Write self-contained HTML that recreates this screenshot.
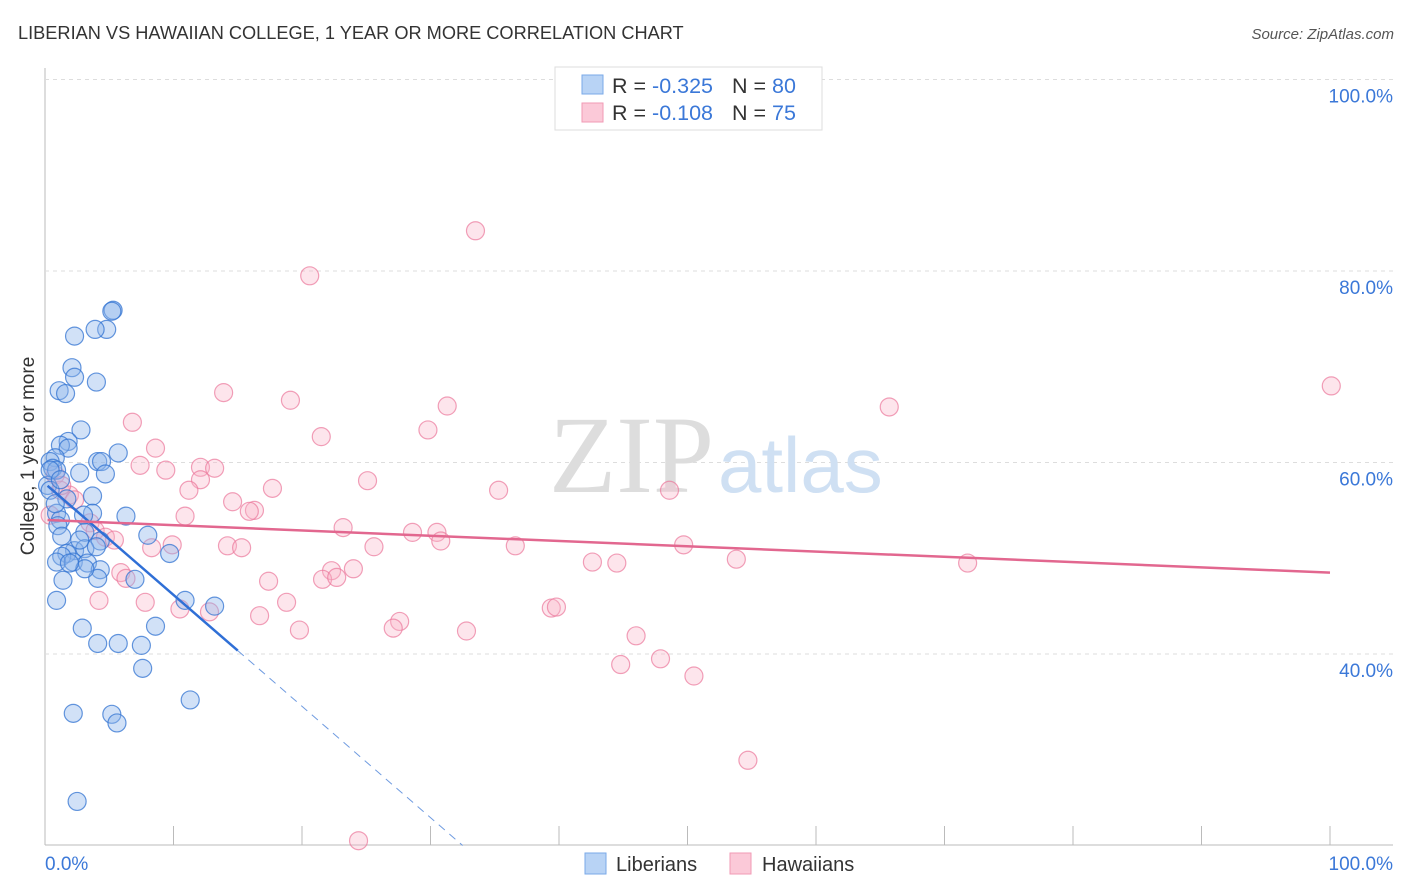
<!DOCTYPE html>
<html><head><meta charset="utf-8"><style>
body{margin:0;background:#fff;font-family:"Liberation Sans",sans-serif;}
svg{display:block}
</style></head><body>
<svg id="chart" width="1406" height="892">
<text x="18" y="39" font-size="18.2" fill="#333">LIBERIAN VS HAWAIIAN COLLEGE, 1 YEAR OR MORE CORRELATION CHART</text>
<text x="1394" y="39" font-size="15" fill="#555" font-style="italic" text-anchor="end">Source: ZipAtlas.com</text>
<text x="0" y="0" transform="translate(34,456) rotate(-90)" font-size="19" fill="#333" text-anchor="middle">College, 1 year or more</text>
<g id="grid"></g>
<text x="714" y="492" font-size="110" font-family="Liberation Serif,serif" fill="#ddd" text-anchor="end">ZIP</text>
<text x="718" y="492" font-size="78" fill="#cfe0f3">atlas</text>
<g id="marks"></g>
<g>
<rect x="555" y="67" width="267" height="63" fill="#fff" stroke="#ddd"/>
<rect x="582" y="75" width="21" height="19" fill="#b8d3f5" stroke="#7aa9e8"/>
<rect x="582" y="103" width="21" height="19" fill="#fbc9d8" stroke="#f09ab5"/>
<text x="612" y="93" font-size="21.5" fill="#333">R = <tspan fill="#3b78d8">-0.325</tspan><tspan x="732">N = </tspan><tspan fill="#3b78d8">80</tspan></text>
<text x="612" y="120" font-size="21.5" fill="#333">R = <tspan fill="#3b78d8"> -0.108</tspan><tspan x="732">N = </tspan><tspan fill="#3b78d8"> 75</tspan></text>
</g>
<g>
<rect x="585" y="853" width="21" height="21" fill="#b8d3f5" stroke="#7aa9e8"/>
<text x="616" y="871" font-size="20" fill="#333">Liberians</text>
<rect x="730" y="853" width="21" height="21" fill="#fbc9d8" stroke="#f09ab5"/>
<text x="762" y="871" font-size="20" fill="#333">Hawaiians</text>
</g>
</svg>
<script>
const yTicks=[40,60,80,100];
const xTickLabels=["0.0%","100.0%"];
const blueX=[5.3,5.2,4.8,3.9,2.3,2.1,2.3,4.0,1.1,1.6,2.8,1.8,1.2,1.8,4.1,5.7,4.4,4.7,2.7,0.8,0.4,0.6,0.9,0.2,0.4,3.7,1.7,0.9,3.7,3.0,6.3,1.2,1.0,3.1,1.3,8.0,4.3,2.3,3.1,1.7,1.3,4.0,9.7,0.9,2.2,3.3,4.3,7.0,4.1,1.4,3.1,0.9,10.9,13.2,8.6,2.9,4.1,5.7,7.5,7.6,2.2,5.2,5.6,11.3,2.5,0.4,1.2,0.8,1.9,2.7];
const blueY=[75.9,75.8,73.9,73.9,73.2,69.9,68.9,68.4,67.5,67.2,63.4,62.2,61.8,61.5,60.1,61.0,60.1,58.8,58.9,60.5,60.1,59.4,59.2,57.6,57.1,56.5,56.2,54.7,54.7,54.5,54.4,54.0,53.4,52.7,52.3,52.4,51.8,50.8,51.0,50.5,50.2,51.2,50.5,49.6,49.6,49.5,48.8,47.8,47.9,47.7,48.9,45.6,45.6,45.0,42.9,42.7,41.1,41.1,40.9,38.5,33.8,33.7,32.8,35.2,24.6,59.2,58.2,55.7,49.5,51.9];
const pinkX=[33.5,20.6,100.1,65.7,31.3,13.9,19.1,6.8,29.8,21.5,8.6,7.4,9.4,12.1,13.2,12.1,25.1,17.7,11.2,35.3,48.6,14.6,16.3,15.9,10.9,3.5,3.9,4.7,5.4,23.2,28.6,30.5,30.8,25.6,36.6,49.7,14.2,15.3,9.9,8.3,42.6,44.5,53.8,71.8,5.9,6.3,17.4,22.3,24.0,21.6,22.7,4.2,7.8,10.5,12.8,18.8,16.7,27.6,27.1,19.8,32.8,39.4,39.8,46.0,47.9,44.8,50.5,54.7,24.4,0.8,1.2,1.9,2.3,1.3,0.4];
const pinkY=[84.2,79.5,68.0,65.8,65.9,67.3,66.5,64.2,63.4,62.7,61.5,59.7,59.2,59.5,59.4,58.2,58.1,57.3,57.1,57.1,57.1,55.9,55.0,54.9,54.4,53.7,52.9,52.2,51.9,53.2,52.7,52.7,51.8,51.2,51.3,51.4,51.3,51.1,51.4,51.1,49.6,49.5,49.9,49.5,48.5,47.9,47.6,48.7,48.9,47.8,48.0,45.6,45.4,44.7,44.4,45.4,44.0,43.4,42.7,42.5,42.4,44.8,44.9,41.9,39.5,38.9,37.7,28.9,20.5,58.7,57.1,56.6,56.1,57.6,54.5];
const blueFit=[57.8,-1.163];
const pinkFit=[54.0,-0.055];
const X=v=>45+v*12.85, Y=v=>1037-v*9.575;
const NS="http://www.w3.org/2000/svg";
function mk(tag,attrs,parent){const e=document.createElementNS(NS,tag);for(const k in attrs)e.setAttribute(k,attrs[k]);parent.appendChild(e);return e;}
const grid=document.getElementById('grid'), marks=document.getElementById('marks');
let ax=mk('line',{x1:45,y1:68,x2:45,y2:845,stroke:'#bbb'},grid);


let bx=mk('line',{x1:45,y1:845,x2:1393,y2:845,stroke:'#bbb'},grid);


yTicks.forEach(t=>{
 let g=mk('line',{x1:45,y1:Y(t),x2:1393,y2:Y(t),stroke:'#ddd','stroke-dasharray':'4,4'},grid);
 
 
 let l=mk('text',{x:1393,y:Y(t)+23,'font-size':19,fill:'#3b78d8','text-anchor':'end'},grid);
 l.textContent=t.toFixed(1)+'%';
 
 
});
for(let i=1;i<=10;i++){
 let t=mk('line',{x1:X(i*10),y1:826,x2:X(i*10),y2:845,stroke:'#bbb'},grid);
 
 
}
[[0,'start',45],[100,'end',1393]].forEach((d,i)=>{
 let l=mk('text',{x:d[2],y:870,'font-size':19,fill:'#3b78d8','text-anchor':d[1]},grid);
 l.textContent=xTickLabels[i];
 
 
});
function pts(xs,ys,fill,stroke,name){
 xs.forEach((x,i)=>{
  let c=mk('circle',{cx:X(x),cy:Y(ys[i]),r:9,fill:fill,stroke:stroke,'stroke-width':1.2},marks);
  
  
 });
}
pts(pinkX,pinkY,'rgba(248,180,200,0.35)','rgba(235,120,155,0.7)','hawaiian-point');
pts(blueX,blueY,'rgba(140,180,235,0.4)','rgba(50,115,210,0.75)','liberian-point');
const bEnd=15, bZero=(20-blueFit[0])/blueFit[1];
let bl=mk('line',{x1:X(0.2),y1:Y(blueFit[0]+blueFit[1]*0.2),x2:X(bEnd),y2:Y(blueFit[0]+blueFit[1]*bEnd),stroke:'#2f6fd6','stroke-width':2.5},marks);


let bd=mk('line',{x1:X(bEnd),y1:Y(blueFit[0]+blueFit[1]*bEnd),x2:X(bZero),y2:Y(20),stroke:'#6f9be0','stroke-width':1,'stroke-dasharray':'8,6'},marks);


let pl=mk('line',{x1:X(0.2),y1:Y(pinkFit[0]+pinkFit[1]*0.2),x2:X(100),y2:Y(pinkFit[0]+pinkFit[1]*100),stroke:'#e2678f','stroke-width':2.5},marks);


</script>
</body></html>
